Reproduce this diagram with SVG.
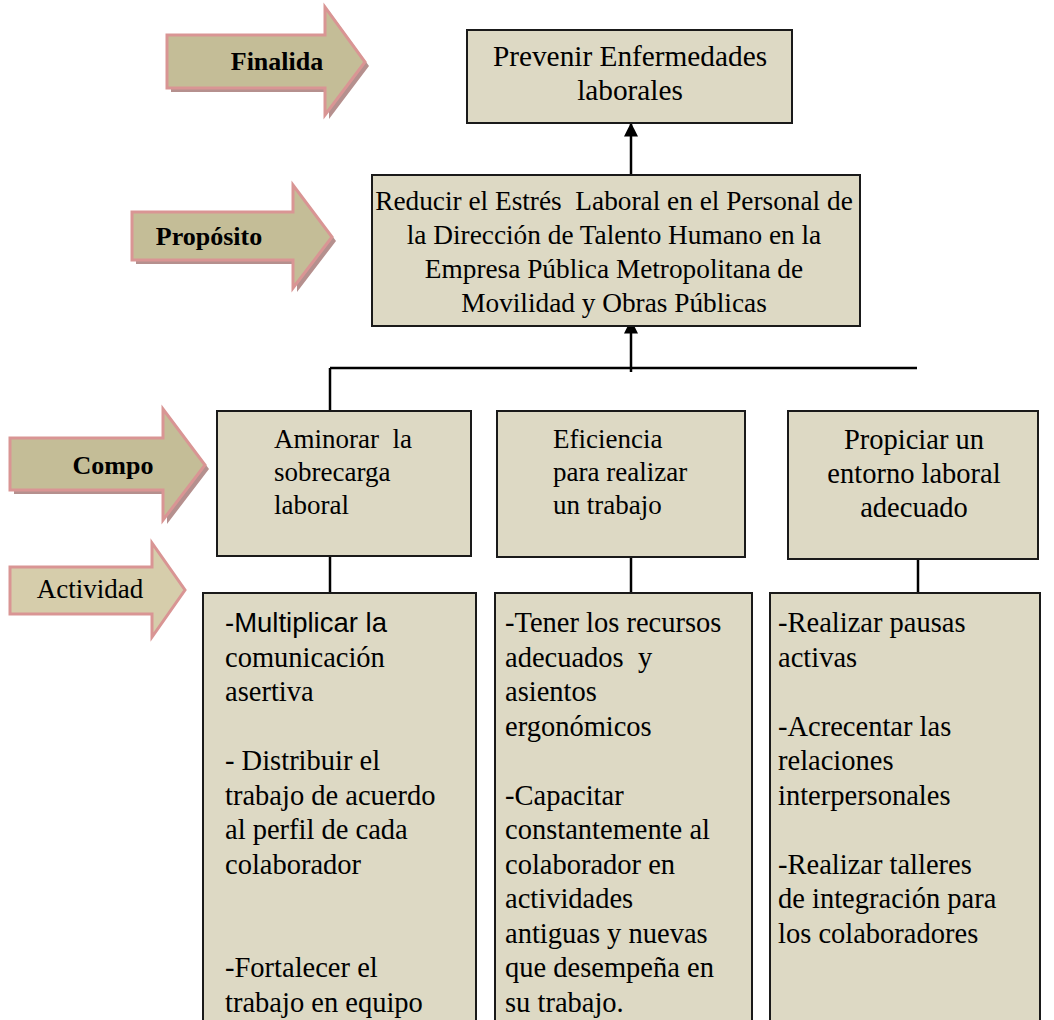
<svg xmlns="http://www.w3.org/2000/svg" width="1054" height="1020" viewBox="0 0 1054 1020">
<style>
.box{fill:#ddd9c4;stroke:#1a1a1a;stroke-width:2}
.t{font-family:"Liberation Serif","Times New Roman",serif;font-size:28.5px;fill:#000}
.m{font-size:27px}
.s{font-family:"Liberation Sans",Arial,sans-serif;font-size:27.5px;fill:#000}
.c{text-anchor:middle}
.lbl{font-family:"Liberation Serif","Times New Roman",serif;font-weight:bold;font-size:26px;fill:#000;text-anchor:middle}
.arr{fill:#c4bd97;stroke:#d99594;stroke-width:3;stroke-linejoin:miter}
.sh{fill:#b5908e}
.con{stroke:#000;stroke-width:2.5;fill:none}
</style>
<defs>
<marker id="ah" viewBox="0 0 10 10" refX="9" refY="5" markerWidth="14" markerHeight="14" markerUnits="userSpaceOnUse" orient="auto">
<path d="M0,0 L10,5 L0,10 z" fill="#000"/>
</marker>
</defs>
<rect width="1054" height="1020" fill="#fff"/>

<g id="arrow-finalidad">
<path class="sh" d="M171,39 L329,39 L329,11 L369,66 L329,119 L329,92 L171,92 z"/>
<path class="arr" d="M167,35 L325,35 L325,7 L365,62 L325,115 L325,88 L167,88 z"/>
<text class="lbl" x="277" y="70">Finalida</text>
</g>
<g id="arrow-proposito">
<path class="sh" d="M136,216 L297,216 L297,189 L336,241 L297,292 L297,264 L136,264 z"/>
<path class="arr" d="M132,212 L293,212 L293,185 L332,237 L293,288 L293,260 L132,260 z"/>
<text class="lbl" x="209" y="245">Propósito</text>
</g>
<g id="arrow-compo">
<path class="sh" d="M14,442 L167,442 L167,413 L209,469 L167,524 L167,494 L14,494 z"/>
<path class="arr" d="M10,438 L163,438 L163,409 L205,465 L163,520 L163,490 L10,490 z"/>
<text class="lbl" x="113" y="474">Compo</text>
</g>
<g id="arrow-actividad">
<path fill="#d6cdab" stroke="#d99594" stroke-width="3" d="M10,567 L152,567 L152,543 L185,590 L152,637 L152,614 L10,614 z"/>
<text class="t c" x="90" y="598" style="font-size:27px">Actividad</text>
</g>

<g id="connectors">
<line class="con" x1="631" y1="178" x2="631" y2="124" marker-end="url(#ah)"/>
<line class="con" x1="631" y1="372" x2="631" y2="321" marker-end="url(#ah)"/>
<line class="con" x1="330" y1="368" x2="917" y2="368"/>
<line class="con" x1="330" y1="368" x2="330" y2="411"/>
<line class="con" x1="330" y1="556" x2="330" y2="593"/>
<line class="con" x1="631" y1="557" x2="631" y2="593"/>
<line class="con" x1="918" y1="559" x2="918" y2="593"/>
</g>

<g id="node-prevenir">
<rect class="box" x="467" y="30" width="325" height="93"/>
<text class="t c" x="630" y="66" style="font-size:29.3px">Prevenir Enfermedades</text>
<text class="t c" x="630" y="100" style="font-size:29.3px">laborales</text>
</g>
<g id="node-reducir">
<rect class="box" x="372" y="175" width="488" height="151"/>
<g style="font-size:27.3px">
<text class="t c" x="614" y="210" xml:space="preserve" style="font-size:27.3px">Reducir el Estrés  Laboral en el Personal de</text>
<text class="t c" x="614" y="244" style="font-size:27.3px">la Dirección de Talento Humano en la</text>
<text class="t c" x="614" y="278" style="font-size:27.3px">Empresa Pública Metropolitana de</text>
<text class="t c" x="614" y="312" style="font-size:27.3px">Movilidad y Obras Públicas</text>
</g>
</g>
<g id="node-aminorar">
<rect class="box" x="217" y="411" width="254" height="145"/>
<text class="t m" x="274" y="448" xml:space="preserve">Aminorar  la</text>
<text class="t m" x="274" y="481">sobrecarga</text>
<text class="t m" x="274" y="514">laboral</text>
</g>
<g id="node-eficiencia">
<rect class="box" x="497" y="411" width="248" height="146"/>
<text class="t m" x="553" y="448">Eficiencia</text>
<text class="t m" x="553" y="481">para realizar</text>
<text class="t m" x="553" y="514">un trabajo</text>
</g>
<g id="node-propiciar">
<rect class="box" x="788" y="411" width="250" height="148"/>
<text class="t c" x="914" y="449">Propiciar un</text>
<text class="t c" x="914" y="483">entorno laboral</text>
<text class="t c" x="914" y="517">adecuado</text>
</g>

<g id="node-act1">
<rect class="box" x="203" y="593" width="273" height="440"/>
<text class="s" x="225" y="632">-Multiplicar la</text>
<text class="t" x="225" y="666.5">comunicación</text>
<text class="t" x="225" y="701">asertiva</text>
<text class="t" x="225" y="770">- Distribuir el</text>
<text class="t" x="225" y="804.5">trabajo de acuerdo</text>
<text class="t" x="225" y="839">al perfil de cada</text>
<text class="t" x="225" y="873.5">colaborador</text>
<text class="t" x="225" y="977">-Fortalecer el</text>
<text class="t" x="225" y="1011.5">trabajo en equipo</text>
</g>
<g id="node-act2">
<rect class="box" x="495" y="593" width="257" height="440"/>
<text class="t" x="505" y="632">-Tener los recursos</text>
<text class="t" x="505" y="666.5" xml:space="preserve">adecuados  y</text>
<text class="t" x="505" y="701">asientos</text>
<text class="t" x="505" y="735.5">ergonómicos</text>
<text class="t" x="505" y="804.5">-Capacitar</text>
<text class="t" x="505" y="839">constantemente al</text>
<text class="t" x="505" y="873.5">colaborador en</text>
<text class="t" x="505" y="908">actividades</text>
<text class="t" x="505" y="942.5">antiguas y nuevas</text>
<text class="t" x="505" y="977">que desempeña en</text>
<text class="t" x="505" y="1011.5">su trabajo.</text>
</g>
<g id="node-act3">
<rect class="box" x="770" y="593" width="270" height="440"/>
<text class="t" x="778" y="632">-Realizar pausas</text>
<text class="t" x="778" y="666.5">activas</text>
<text class="t" x="778" y="735.5">-Acrecentar las</text>
<text class="t" x="778" y="770">relaciones</text>
<text class="t" x="778" y="804.5">interpersonales</text>
<text class="t" x="778" y="873.5">-Realizar talleres</text>
<text class="t" x="778" y="908">de integración para</text>
<text class="t" x="778" y="942.5">los colaboradores</text>
</g>
</svg>
